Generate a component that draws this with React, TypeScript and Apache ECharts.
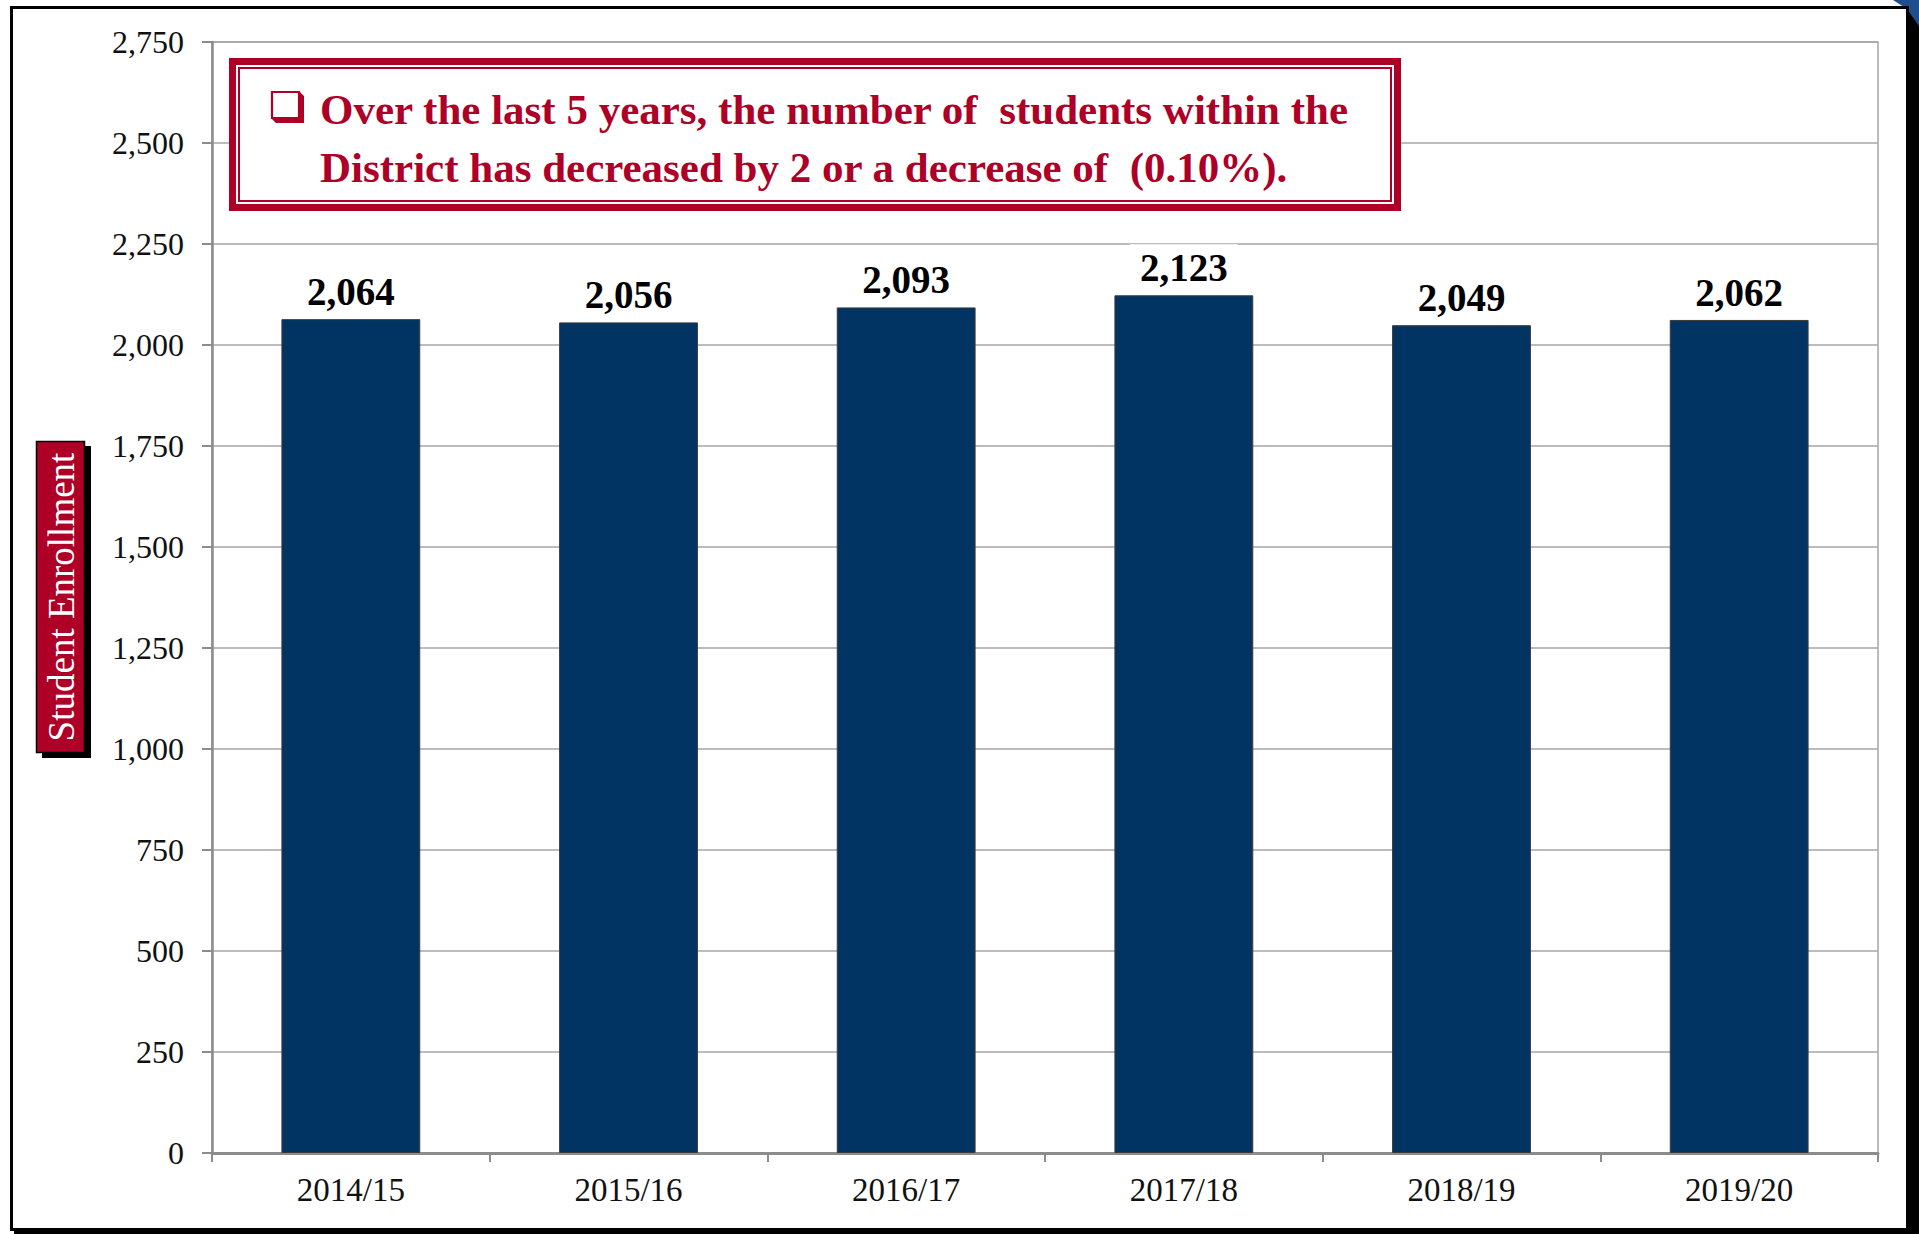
import React, { useEffect, useRef } from "react";
import * as echarts from "echarts";

const categories = ["2014/15", "2015/16", "2016/17", "2017/18", "2018/19", "2019/20"];
const enrollment = [2064, 2056, 2093, 2123, 2049, 2062];
const yMin = 0;
const yMax = 2750;
const yInterval = 250;
const calloutLines = [
  "Over the last 5 years, the number of  students within the",
  "District has decreased by 2 or a decrease of  (0.10%).",
];
const axisTitle = "Student Enrollment";

const RED = "#AE0027";
const NAVY = "#023463";
const FONT = "'Liberation Serif', 'DejaVu Serif', serif";

const fmt = (v: number) => v.toLocaleString("en-US");

export default function App() {
  const ref = useRef<HTMLDivElement>(null);
  useEffect(() => {
    if (!ref.current) return;
    const chart = echarts.init(ref.current, null, { renderer: "svg" });
    chart.setOption({
      animation: false,
      backgroundColor: "#ffffff",
      grid: {
        left: 212,
        top: 42,
        width: 1666,
        height: 1111,
        containLabel: false,
        show: true,
        borderColor: "#A6A6A6",
        borderWidth: 1.5,
      },
      xAxis: {
        type: "category",
        data: categories,
        boundaryGap: true,
        axisLine: { show: true, lineStyle: { color: "#8C8C8C", width: 3 } },
        axisTick: { show: true, alignWithLabel: false, length: 9, lineStyle: { color: "#8C8C8C", width: 2 } },
        axisLabel: { color: "#111", fontFamily: FONT, fontSize: 33, margin: 20 },
        splitLine: { show: false },
      },
      yAxis: {
        type: "value",
        min: yMin,
        max: yMax,
        interval: yInterval,
        axisLine: { show: true, lineStyle: { color: "#8C8C8C", width: 2.5 } },
        axisTick: { show: true, length: 10, lineStyle: { color: "#8C8C8C", width: 2 } },
        axisLabel: { color: "#111", fontFamily: FONT, fontSize: 32, margin: 28, formatter: (v: number) => fmt(v) },
        splitLine: { show: true, lineStyle: { color: "#A6A6A6", width: 1.5 } },
      },
      series: [
        {
          type: "bar",
          data: enrollment,
          barWidth: "50%",
          itemStyle: { color: NAVY, borderColor: "#3a3a3a", borderWidth: 1 },
          label: {
            show: true,
            position: "top",
            distance: 8,
            color: "#000",
            fontFamily: FONT,
            fontWeight: "bold",
            fontSize: 39,
            backgroundColor: "#fff",
            padding: [4, 10, 0, 10],
            formatter: (p: any) => fmt(p.value),
          },
        },
      ],
      graphic: [
        // outer frame shadow
        { type: "rect", z: 1, shape: { x: 1907, y: 10, width: 12, height: 1224 }, style: { fill: "#000" } },
        { type: "rect", z: 1, shape: { x: 14, y: 1229, width: 1905, height: 5 }, style: { fill: "#000" } },
        { type: "polygon", z: 2, shape: { points: [[1893, 0], [1919, 0], [1919, 26], [1907, 9]] }, style: { fill: "#1F4E8C" } },
        // outer frame
        { type: "rect", z: 2, shape: { x: 11.5, y: 7.5, width: 1896, height: 1222 }, style: { fill: "none", stroke: "#000", lineWidth: 3 } },
        // callout box
        { type: "rect", z: 100, shape: { x: 232.5, y: 61.5, width: 1165, height: 146 }, style: { fill: "#fff", stroke: RED, lineWidth: 7 } },
        { type: "rect", z: 101, shape: { x: 239, y: 68, width: 1152, height: 133 }, style: { fill: "none", stroke: RED, lineWidth: 2 } },
        // checkbox glyph
        { type: "rect", z: 102, shape: { x: 272, y: 92, width: 27, height: 26 }, style: { fill: "#fff", stroke: RED, lineWidth: 2.2 } },
        { type: "polygon", z: 102, shape: { points: [[299, 91], [304, 96], [304, 123], [276, 123], [271, 118], [299, 118]] }, style: { fill: RED } },
        {
          type: "text",
          z: 103,
          x: 320,
          y: 109,
          style: { text: calloutLines[0], fill: RED, font: `bold 43px ${FONT}`, textAlign: "left", textVerticalAlign: "middle" },
        },
        {
          type: "text",
          z: 103,
          x: 320,
          y: 167,
          style: { text: calloutLines[1], fill: RED, font: `bold 43px ${FONT}`, textAlign: "left", textVerticalAlign: "middle" },
        },
        // y-axis title box
        { type: "rect", z: 100, shape: { x: 42, y: 446, width: 49, height: 312 }, style: { fill: "#000" } },
        { type: "rect", z: 101, shape: { x: 36.5, y: 441.5, width: 48, height: 311 }, style: { fill: RED, stroke: "#000", lineWidth: 1.5 } },
        {
          type: "text",
          z: 102,
          x: 61,
          y: 597,
          rotation: Math.PI / 2,
          style: { text: axisTitle, fill: "#fff", font: `37px ${FONT}`, textAlign: "center", textVerticalAlign: "middle" },
        },
      ],
    });
    return () => chart.dispose();
  }, []);
  return <div ref={ref} style={{ position: "fixed", left: 0, top: 0, width: 1919, height: 1234 }} />;
}
